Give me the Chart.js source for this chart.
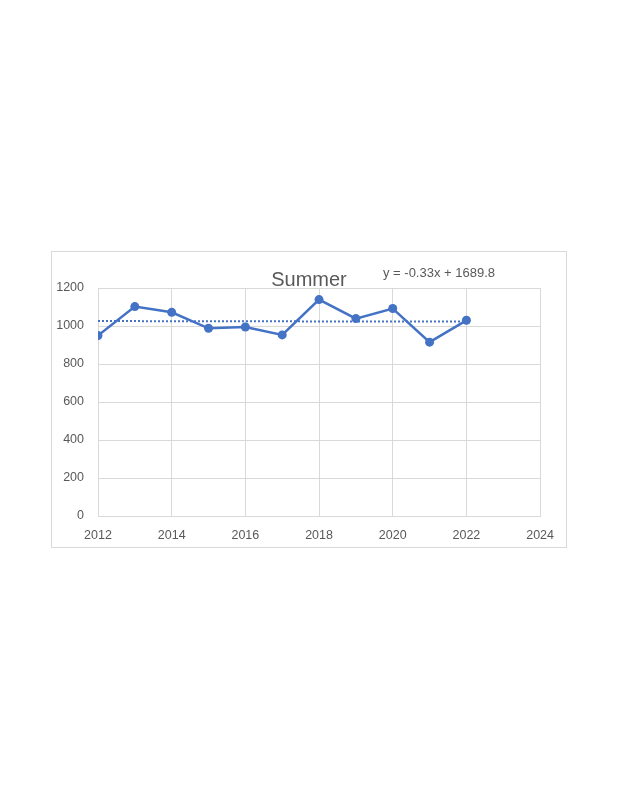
<!DOCTYPE html>
<html>
<head>
<meta charset="utf-8">
<script src="https://cdn.jsdelivr.net/npm/chart.js@4"></script>
<style>
  html, body { margin: 0; padding: 0; background: #fff; }
  body { width: 618px; height: 800px; position: relative; }
  #box {
    position: absolute; left: 51px; top: 251px;
    width: 516px; height: 297px;
    border: 1px solid #d9d9d9; box-sizing: border-box;
  }
  #box canvas { display: block; }
</style>
</head>
<body>
<div id="box"><canvas id="myChart" width="514" height="295"></canvas></div>
<script>
// data
const years = [2012, 2013, 2014, 2015, 2016, 2017, 2018, 2019, 2020, 2021, 2022];
const summer = [950, 1102, 1072, 988, 995, 953, 1139, 1039, 1092, 915, 1030];
const trendYears = [2012, 2022];
const trendValues = [1026, 1023];
const titleText = 'Summer';
const equationText = 'y = -0.33x + 1689.8';

const textColor = '#595959';
const gridColor = '#d9d9d9';
const blue = '#4472C4';

// title + equation drawn at fixed spots so they don't take layout space
const labelsPlugin = {
  id: 'labels',
  afterDraw(chart) {
    const ctx = chart.ctx;
    ctx.save();
    ctx.fillStyle = textColor;
    ctx.textBaseline = 'alphabetic';
    ctx.font = '20px "Liberation Sans", Arial, sans-serif';
    ctx.textAlign = 'center';
    ctx.fillText(titleText, 257, 34);
    ctx.font = '13px "Liberation Sans", Arial, sans-serif';
    ctx.textAlign = 'left';
    ctx.fillText(equationText, 331, 25);
    ctx.restore();
  }
};

const ctx = document.getElementById('myChart');
new Chart(ctx, {
  type: 'line',
  data: {
    datasets: [{
      label: titleText,
      data: years.map((y, i) => ({ x: y, y: summer[i] })),
      borderColor: blue,
      backgroundColor: blue,
      borderWidth: 2.5,
      pointRadius: 4.5,
      pointBorderWidth: 0,
      tension: 0
    }, {
      label: 'trend',
      data: trendYears.map((y, i) => ({ x: y, y: trendValues[i] })),
      borderColor: blue,
      borderWidth: 2,
      borderDash: [2, 2],
      pointRadius: 0,
      tension: 0
    }]
  },
  options: {
    animation: false,
    responsive: false,
    layout: { padding: { left: 0, right: 22.5, top: 36, bottom: 0 } },
    plugins: {
      legend: { display: false },
      tooltip: { enabled: false }
    },
    scales: {
      x: {
        type: 'linear',
        min: 2012, max: 2024,
        ticks: {
          stepSize: 2,
          color: textColor,
          font: { family: '"Liberation Sans", Arial, sans-serif', size: 12.5 },
          padding: 12,
          callback: v => String(v)
        },
        grid: { color: gridColor, drawTicks: false },
        border: { color: gridColor },
        afterFit(scale) { scale.height = 31; }
      },
      y: {
        min: 0, max: 1200,
        ticks: {
          stepSize: 200,
          color: textColor,
          font: { family: '"Liberation Sans", Arial, sans-serif', size: 12.5 },
          padding: 14,
          callback: v => String(v)
        },
        grid: { color: gridColor, drawTicks: false },
        border: { color: gridColor },
        afterFit(scale) { scale.width = 46; }
      }
    }
  },
  plugins: [labelsPlugin]
});
</script>
</body>
</html>
